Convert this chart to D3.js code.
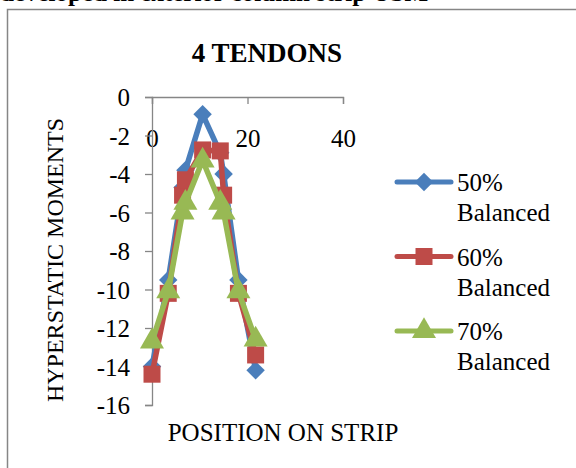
<!DOCTYPE html>
<html>
<head>
<meta charset="utf-8">
<script src="https://cdn.jsdelivr.net/npm/d3@7"></script>
<style>
  body { margin: 0; background: #fff; }
  svg { display: block; font-family: "Liberation Serif", "Times New Roman", serif; }
  svg text { font-family: "Liberation Serif", "Times New Roman", serif; }
</style>
</head>
<body>
<div id="chart"></div>
<script>
const width = 576;
const height = 468;

// data
const positions = [0, 3.4, 6.4, 7, 10.6, 14.3, 15, 18.1, 21.7];
const balanced50 = [-14.0, -9.5, -4.7, -3.8, -0.9, -2.9, -4.0, -9.5, -14.2];
const balanced60 = [-14.4, -10.2, -5.1, -4.3, -2.75, -2.8, -5.1, -10.2, -13.4];
const balanced70 = [-12.7, -10.1, -6.0, -5.5, -3.3, -5.5, -6.0, -10.1, -12.6];
const seriesNames = ['50%|Balanced', '60%|Balanced', '70%|Balanced'];
const xTicks = [0, 20, 40];
const yTicks = [0, -2, -4, -6, -8, -10, -12, -14, -16];

const series = [
  { name: seriesNames[0], values: balanced50, color: '#4a7ebb', marker: 'diamond' },
  { name: seriesNames[1], values: balanced60, color: '#be4b48', marker: 'square' },
  { name: seriesNames[2], values: balanced70, color: '#98b954', marker: 'triangle' }
];

const svg = d3.select('#chart')
  .append('svg')
  .attr('width', width)
  .attr('height', height);

// cut-off caption above the chart frame
svg.append('text')
  .attr('x', 0)
  .attr('y', 1)
  .attr('font-size', 25)
  .attr('font-weight', 'bold')
  .text('developed in exterior column strip USM');

// chart frame (right and bottom edges fall outside the picture)
svg.append('rect')
  .attr('x', 7.5)
  .attr('y', 9.5)
  .attr('width', 700)
  .attr('height', 600)
  .attr('fill', 'none')
  .attr('stroke', '#868686')
  .attr('stroke-width', 1.5);

svg.append('text')
  .attr('x', 267)
  .attr('y', 62)
  .attr('text-anchor', 'middle')
  .attr('font-size', 27)
  .attr('font-weight', 'bold')
  .text('4 TENDONS');

const x = d3.scaleLinear().domain([0, 40]).range([152, 343]);
const y = d3.scaleLinear().domain([-16, 0]).range([405, 97]);

// x axis sits on top (value 0)
const xAxisG = svg.append('g')
  .attr('transform', `translate(0, ${y(0)})`)
  .call(d3.axisBottom(x).tickValues(xTicks).tickSize(7).tickFormat(d => d));

const yAxisG = svg.append('g')
  .attr('transform', `translate(${x(0)}, 0)`)
  .call(d3.axisLeft(y).tickValues(yTicks).tickSize(7).tickFormat(d => String(d)));

[xAxisG, yAxisG].forEach(g => {
  g.attr('font-family', null).attr('font-size', null);
  g.select('.domain').attr('stroke', '#868686').attr('stroke-width', 1.3);
  g.selectAll('.tick line').attr('stroke', '#868686').attr('stroke-width', 1.3);
  g.selectAll('.tick text')
    .attr('font-size', 25)
    .attr('fill', '#000');
});
xAxisG.selectAll('.tick text').attr('y', 50).attr('dy', 0);
yAxisG.selectAll('.tick text').attr('x', -22).attr('dy', '0.35em');

// axis titles
svg.append('text')
  .attr('x', 283)
  .attr('y', 441)
  .attr('text-anchor', 'middle')
  .attr('font-size', 25)
  .text('POSITION ON STRIP');

svg.append('text')
  .attr('transform', 'translate(63, 260) rotate(-90)')
  .attr('text-anchor', 'middle')
  .attr('font-size', 24)
  .text('HYPERSTATIC MOMENTS');

const markerPath = function (type) {
  if (type === 'square') return d3.symbol().type(d3.symbolSquare).size(289)();
  if (type === 'triangle') return d3.symbol().type(d3.symbolTriangle).size(250)();
  return d3.symbol().type(d3.symbolSquare).size(170)();
};

const line = d3.line()
  .x((d, i) => x(positions[i]))
  .y(d => y(d));

series.forEach(s => {
  const g = svg.append('g');
  g.append('path')
    .attr('d', line(s.values))
    .attr('fill', 'none')
    .attr('stroke', s.color)
    .attr('stroke-width', 5.5)
    .attr('stroke-linejoin', 'round')
    .attr('stroke-linecap', 'round');
  g.selectAll('path.marker')
    .data(s.values)
    .join('path')
    .attr('class', 'marker')
    .attr('d', markerPath(s.marker))
    .attr('transform', (d, i) => `translate(${x(positions[i])}, ${y(d)})` + (s.marker === 'diamond' ? ' rotate(45)' : ''))
    .attr('fill', s.color);
});

// LEGEND
const legend = svg.append('g');
series.forEach((s, i) => {
  const ly = 182 + i * 74.5;
  legend.append('line')
    .attr('x1', 397)
    .attr('x2', 451)
    .attr('y1', ly)
    .attr('y2', ly)
    .attr('stroke', s.color)
    .attr('stroke-width', 5)
    .attr('stroke-linecap', 'round');
  legend.append('path')
    .attr('d', markerPath(s.marker))
    .attr('transform', `translate(424, ${ly})` + (s.marker === 'diamond' ? ' rotate(45)' : ''))
    .attr('fill', s.color);
  const parts = s.name.split('|');
  legend.append('text')
    .attr('x', 457)
    .attr('y', ly + 9)
    .attr('font-size', 25)
    .text(parts[0]);
  legend.append('text')
    .attr('x', 457)
    .attr('y', ly + 39)
    .attr('font-size', 25)
    .text(parts[1]);
});
</script>
</body>
</html>
